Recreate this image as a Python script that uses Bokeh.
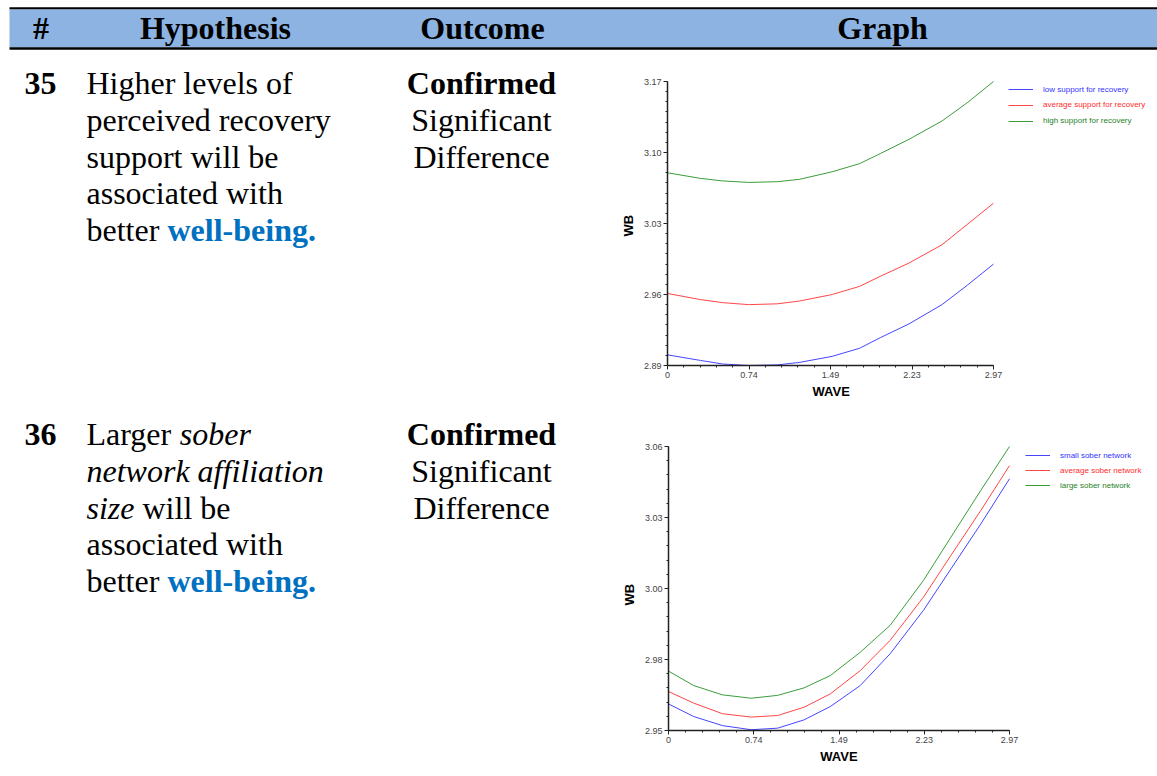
import numpy as np
from bokeh.plotting import figure
from bokeh.layouts import column, row
from bokeh.models import Range1d, FixedTicker, Legend, LegendItem
from bokeh.core.properties import value
from bokeh.embed import file_html
from bokeh.resources import INLINE

# ---------------- data ----------------
headers = ["#", "Hypothesis", "Outcome", "Graph"]
row_ids = ["35", "36"]
outcome_lines = ["Confirmed", "Significant", "Difference"]
x_title = "WAVE"
y_title = "WB"

series1_names = ["low support for recovery", "average support for recovery", "high support for recovery"]
wave1 = [0.0, 0.30, 0.50, 0.74, 1.00, 1.20, 1.50, 1.75, 1.94, 2.20, 2.50, 2.73, 2.97]
wb1_low = [2.9005, 2.8950, 2.8915, 2.8900, 2.8906, 2.8930, 2.8990, 2.9070, 2.9175, 2.9310, 2.9500, 2.9690, 2.9900]
wb1_avg = [2.9610, 2.9550, 2.9520, 2.9500, 2.9508, 2.9535, 2.9600, 2.9680, 2.9780, 2.9910, 3.0090, 3.0290, 3.0500]
wb1_high = [3.0800, 3.0745, 3.0720, 3.0705, 3.0712, 3.0735, 3.0810, 3.0890, 3.0990, 3.1130, 3.1310, 3.1490, 3.1700]

series2_names = ["small sober network", "average sober network", "large sober network"]
wave2 = [0.0, 0.22, 0.47, 0.72, 0.95, 1.18, 1.41, 1.67, 1.93, 2.22, 2.46, 2.72, 2.97]
wb2_small = [2.9603, 2.9554, 2.9519, 2.9503, 2.9509, 2.9541, 2.9593, 2.9674, 2.9797, 2.9965, 3.0126, 3.0300, 3.0475]
wb2_avg = [2.9651, 2.9606, 2.9565, 2.9552, 2.9558, 2.9590, 2.9642, 2.9732, 2.9849, 3.0016, 3.0178, 3.0352, 3.0526]
wb2_large = [2.9730, 2.9674, 2.9638, 2.9625, 2.9636, 2.9665, 2.9713, 2.9803, 2.9907, 3.0081, 3.0249, 3.0430, 3.0600]

x_ticks = [0.0, 0.7425, 1.485, 2.2275, 2.97]
x_labels = ["0", "0.74", "1.49", "2.23", "2.97"]
y1_ticks = [2.89, 2.96, 3.03, 3.10, 3.17]
y1_labels = ["2.89", "2.96", "3.03", "3.10", "3.17"]
y2_ticks = [2.95, 2.9775, 3.005, 3.0325, 3.06]
y2_labels = ["2.95", "2.98", "3.00", "3.03", "3.06"]

line_colors = ["#4646ff", "#ff4646", "#3a9d3a"]
label_colors = ["#3333ff", "#ff2b2b", "#1f7f1f"]

SERIF = value("Liberation Serif")
SANS = "Liberation Sans"
TXT_SHIFT = 9.5  # compensation of the alphabetic-baseline offset of 32px text
NBSP = "\u00a0"


def base_fig(w, h, xr, yr, bottom=0):
    p = figure(width=w, height=h, x_range=Range1d(*xr), y_range=Range1d(*yr),
               x_axis_location=None, y_axis_location=None, title=None,
               output_backend="svg", toolbar_location=None,
               min_border_left=0, min_border_right=0, min_border_top=0,
               min_border_bottom=bottom)
    p.outline_line_color = None
    p.grid.visible = False
    p.background_fill_color = "white"
    p.border_fill_color = "white"
    return p


def put(p, xs, ys, texts, style="normal", align="left", color="black"):
    p.text(x=xs, y=[v - TXT_SHIFT for v in ys], text=texts, text_font=SERIF,
           text_font_size="32px", text_font_style=style, text_align=align,
           text_baseline="alphabetic", text_color=color)


# ---------------- header (page y 0..60) ----------------
hdr = base_fig(1157, 60, (0, 1157), (60, 0))
hdr.quad(left=[9], right=[1157], top=[8.7], bottom=[47.0], fill_color="#8db3e2", line_color=None)
hdr.quad(left=[9], right=[1157], top=[6.8], bottom=[8.8], fill_color="black", line_color=None)
hdr.quad(left=[9], right=[1157], top=[46.8], bottom=[49.3], fill_color="black", line_color=None)
put(hdr, [40.5, 215, 482, 882], [37, 37, 37, 37], headers, style="bold", align="center")

# ---------------- row 35 text (page y 60..415, frame 60..365) ----------------
t1 = base_fig(600, 355, (0, 600), (365, 60), bottom=50)
b1 = [92.3, 129.0, 165.7, 202.3, 239.0]
put(t1, [24], [b1[0]], [row_ids[0]], style="bold")
put(t1, [86] * 5, b1, ["Higher levels of", "perceived recovery", "support will be",
                       "associated with", "better"])
put(t1, [167], [b1[4]], ["well-being."], style="bold", color="#0070c0")
put(t1, [481], [b1[0]], [outcome_lines[0]], style="bold", align="center")
put(t1, [481, 481], b1[1:3], outcome_lines[1:], align="center")

# ---------------- row 36 text (page y 415..776, frame 415..730) ----------------
t2 = base_fig(600, 361, (0, 600), (730, 415), bottom=46)
b2 = [443.3, 480.0, 516.7, 553.3, 590.0]
put(t2, [24], [b2[0]], [row_ids[1]], style="bold")
put(t2, [86], [b2[0]], ["Larger"])
put(t2, [179.3], [b2[0]], ["sober"], style="italic")
put(t2, [86], [b2[1]], ["network affiliation"], style="italic")
put(t2, [86], [b2[2]], ["size"], style="italic")
put(t2, [142], [b2[2]], ["will be"])
put(t2, [86, 86], [b2[3], b2[4]], ["associated with", "better"])
put(t2, [167], [b2[4]], ["well-being."], style="bold", color="#0070c0")
put(t2, [481], [b2[0]], [outcome_lines[0]], style="bold", align="center")
put(t2, [481, 481], b2[1:3], outcome_lines[1:], align="center")


# ---------------- charts ----------------
def make_chart(w, h, left, bottom, axis_w, axis_h, xs, ys_list, names,
               y_bounds, y_ticks, y_labels, n_minor_y, leg_x, leg_centers,
               x_pad, y_pad):
    frame_w = w - left
    frame_h = h - bottom
    x_end = 2.97 * frame_w / axis_w
    y0, y1 = y_bounds
    y_end = y0 + (y1 - y0) * frame_h / axis_h
    p = figure(width=w, height=h, x_range=Range1d(0, x_end), y_range=Range1d(y0, y_end),
               title=None, output_backend="svg", toolbar_location=None,
               min_border_left=left, min_border_right=0,
               min_border_top=0, min_border_bottom=bottom)
    p.outline_line_color = None
    p.grid.visible = False
    x_minor = list(np.linspace(0, 2.97, 21))
    y_minor = list(np.linspace(y0, y1, 4 * n_minor_y + 1))
    p.xaxis.ticker = FixedTicker(ticks=x_ticks, minor_ticks=x_minor)
    p.yaxis.ticker = FixedTicker(ticks=y_ticks, minor_ticks=y_minor)
    p.xaxis.bounds = (0, 2.97)
    p.yaxis.bounds = (y0, y1)
    p.xaxis.major_label_overrides = dict(zip(x_ticks, x_labels))
    p.yaxis.major_label_overrides = dict(zip(y_ticks, y_labels))
    # the axis titles are centred on the (wider) frame; pad them so that the
    # visible words sit centred on the drawn axis lines
    p.xaxis.axis_label = x_title + NBSP * x_pad
    p.yaxis.axis_label = y_title + NBSP * y_pad
    for ax in (p.xaxis, p.yaxis):
        ax.axis_line_color = "#222222"
        ax.axis_line_width = 1.5
        ax.major_tick_line_color = "#222222"
        ax.minor_tick_line_color = "#222222"
        ax.major_tick_in = 0
        ax.major_tick_out = 4
        ax.minor_tick_in = 0
        ax.minor_tick_out = 2
        ax.major_label_text_font = SANS
        ax.major_label_text_font_size = "9px"
        ax.major_label_text_color = "#444444"
        ax.major_label_standoff = 2
        ax.axis_label_text_font = SANS
        ax.axis_label_text_font_size = "13px"
        ax.axis_label_text_font_style = "bold"
        ax.axis_label_text_color = "black"
    p.xaxis.axis_label_standoff = 3
    p.yaxis.axis_label_standoff = 5
    for ys, name, lc, tc, cy in zip(ys_list, names, line_colors, label_colors, leg_centers):
        r = p.line(xs, ys, line_color=lc, line_width=1)
        leg = Legend(items=[LegendItem(label=name, renderers=[r])],
                     location=(leg_x, cy - 5), padding=0, margin=0, spacing=0,
                     border_line_color=None, background_fill_alpha=0,
                     glyph_width=25, glyph_height=10, label_height=10,
                     label_standoff=10, label_text_font=SANS,
                     label_text_font_size="8px", label_text_color=tc)
        p.add_layout(leg)
    return p


c1 = make_chart(557, 355, 67, 50, 326, 284, wave1, [wb1_low, wb1_avg, wb1_high],
                series1_names, (2.89, 3.17), y1_ticks, y1_labels, 7,
                341, [276, 260.5, 244.5], 45, 7)
c2 = make_chart(557, 361, 68, 46, 341, 284, wave2, [wb2_small, wb2_avg, wb2_large],
                series2_names, (2.95, 3.06), y2_ticks, y2_labels, 5,
                357, [275, 260, 245], 41, 12)

page = column(hdr, row(t1, c1), row(t2, c2))
open("out.html", "w").write(file_html(page, INLINE))
